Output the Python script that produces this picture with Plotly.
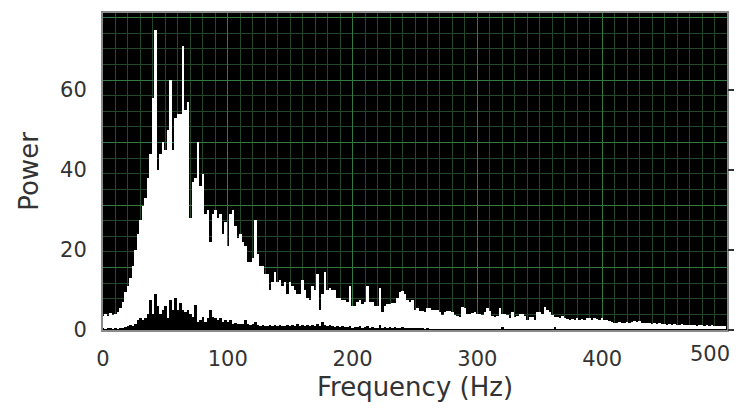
import plotly.graph_objects as go

# frequency bins (Hz), 2 Hz spacing
freq = list(range(0, 500, 2))

# white spectrum (power)
power_a = [
    3.5, 4, 3.5, 4.2, 3.8, 4, 4.5, 5.5, 7, 9.5,
    11, 13, 16, 20, 24, 27.5, 31, 33, 38, 44,
    58, 75, 40, 44, 47, 45, 50, 62.5, 45, 53,
    54, 54, 71, 55, 57, 28, 37, 38, 47, 36,
    39, 29, 30, 22, 29, 30, 28, 29, 24, 27,
    21, 29, 30, 26, 23, 24, 22, 21, 17, 17,
    18, 27.5, 19, 16, 16, 14, 14, 10, 12, 14.5,
    12, 12.5, 11, 12, 9, 12, 11, 10, 9, 9,
    12.5, 10, 8, 7.5, 11, 10, 14, 5, 9, 14.5,
    10, 10.5, 10, 10, 8, 8, 7.5, 7.5, 7, 11,
    6, 6, 7, 7.5, 6.5, 7, 11, 7, 7, 6,
    6, 10.5, 4.5, 6, 6.5, 6.5, 6.8, 6.8, 8, 9.5,
    9.7, 9, 7.5, 7, 7.5, 5, 5.5, 4.7, 4.7, 4.5,
    5.5, 5.5, 5, 5, 5, 4.5, 3.7, 4.5, 4.7, 4.7,
    4.5, 3.7, 3.5, 3.3, 5.7, 5.5, 4, 4, 4.2, 4.5,
    4, 4, 3.8, 4.5, 5.4, 4.8, 3.5, 3.3, 3.5, 5.4,
    4, 4, 3.8, 3, 4.5, 3.3, 3.5, 4, 4, 3.5,
    2.5, 3.3, 3.3, 2.5, 4.5, 4.5, 4, 5.8, 5, 4.5,
    3.8, 3.3, 3.2, 3, 3.5, 3, 2.8, 2.5, 2.8, 2.5,
    3, 2.5, 2.8, 2.5, 3, 3, 2.5, 3, 2.8, 2.5,
    3, 2.5, 2.5, 2.2, 2, 1.8, 1.8, 2, 1.7, 1.8,
    2, 1.8, 2, 2.2, 2, 2.2, 1.8, 1.7, 1.8, 1.7,
    1.6, 1.7, 1.5, 1.7, 1.4, 1.5, 1.3, 1.4, 1.3, 1.5,
    1.3, 1.2, 1.4, 1.3, 1.2, 1.3, 1.2, 1.3, 1.1, 1.2,
    1.3, 1.1, 1.2, 1.1, 1.2, 1.0, 1.1, 1.0, 1.1, 1.0,
]

# black spectrum (power)
power_b = [
    0.3, 0.2, 0.4, 0.3, 0.2, 0.3, 0.2, 0.3, 0.5, 0.8,
    1, 1.2, 1, 1.5, 2.5, 3, 2.5, 3, 4, 7.5,
    4, 9, 6, 4, 5, 6, 3, 7.5, 5, 8,
    5, 6.7, 5, 4.5, 5, 4, 3.3, 6.3, 2, 2.5,
    3.3, 2, 3, 5, 3.3, 3, 2.5, 3, 2, 2.5,
    2, 2.5, 1.5, 1.8, 1.5, 1.5, 1.5, 2.5, 1.5, 1.2,
    1.5, 2, 1.2, 1, 1.2, 1, 1, 1.3, 1, 1.2,
    1, 1.2, 1, 1, 1.3, 1, 1.2, 1, 1.5, 1,
    1.2, 1, 1.3, 1, 1.2, 1, 1.5, 1, 2, 1.2,
    1, 1.3, 1, 0.8, 1, 0.8, 1, 0.7, 0.8, 1,
    0.6, 0.8, 0.7, 0.9, 0.6, 0.8, 1, 0.6, 0.7, 0.5,
    0.6, 1.2, 0.5, 0.8, 0.6, 0.7, 0.5, 0.8, 0.6, 0.5,
    0.7, 0.5, 0.4, 0.6, 0.4, 0.3, 0.4, 0.3, 0.4, 0.2,
    0.3, 0.2, 0.1, 0.2, 0.1, 0.2, 0.1, 0.1, 0.2, 0.1,
    0.1, 0.2, 0.1, 0.1, 0.1, 0.2, 0.1, 0.1, 0.1, 0.1,
    0.1, 0.1, 0.1, 0.2, 0.1, 0.1, 0.1, 0.1, 0.1, 0.1,
    0.8, 0.1, 0.1, 0.1, 0.1, 0.1, 0.1, 0.1, 0.1, 0.1,
    0.1, 0.1, 0.1, 0.1, 0.1, 0.1, 0.1, 0.1, 0.1, 0.1,
    0.1, 0.8, 0.1, 0.1, 0.1, 0.1, 0.1, 0.1, 0.1, 0.1,
    0.1, 0.1, 0.1, 0.1, 0.1, 0.1, 0.1, 0.1, 0.1, 0.1,
    0.1, 0.1, 0.1, 0.1, 0.1, 0.1, 0.1, 0.1, 0.1, 0.1,
    0.1, 0.1, 0.1, 0.1, 0.1, 0.1, 0.1, 0.1, 0.1, 0.1,
    0.1, 0.1, 0.1, 0.1, 0.1, 0.1, 0.1, 0.1, 0.1, 0.1,
    0.1, 0.1, 0.1, 0.1, 0.1, 0.1, 0.1, 0.1, 0.1, 0.1,
    0.1, 0.1, 0.1, 0.1, 0.1, 0.1, 0.1, 0.1, 0.1, 0.1,
]

x_ticks = [0, 100, 200, 300, 400, 500]
y_ticks = [0, 20, 40, 60]

Y_MAX = 79.25
FONT = "DejaVu Sans"
TXT = "#333333"
GRID_MAJOR = "#347a40"
GRID_MINOR = "#24462b"
TICK_SIZE = 21

fig = go.Figure()
fig.add_trace(go.Bar(x=freq, y=power_a, width=2, marker=dict(color="white", line=dict(width=0)),
                     showlegend=False, hoverinfo="x+y"))
fig.add_trace(go.Bar(x=freq, y=power_b, width=2, marker=dict(color="black", line=dict(width=0)),
                     showlegend=False, hoverinfo="x+y"))

# the last x tick label sits at the window edge, so it is nudged left like in the reference
inner_ticks = x_ticks[:-1]
last_tick = x_ticks[-1]

fig.update_layout(
    # page body has an 8px default margin; size the figure to fit the window
    width=735, height=400,
    margin=dict(l=95, r=16, t=5, b=78, autoexpand=False),
    paper_bgcolor="white",
    plot_bgcolor="#000000",
    barmode="overlay", bargap=0,
    font=dict(family=FONT, color=TXT),
    xaxis=dict(
        range=[0, 500], tickvals=inner_ticks, ticktext=[str(v) for v in inner_ticks],
        showgrid=True, gridcolor=GRID_MAJOR, gridwidth=1,
        minor=dict(dtick=10, tick0=0, showgrid=True, gridcolor=GRID_MINOR, gridwidth=1),
        zeroline=False, ticks="", ticklabelstandoff=9,
        tickfont=dict(size=TICK_SIZE, family=FONT, color=TXT),
        showline=True, linecolor="#8a8a8a", linewidth=2, mirror=True,
        automargin=False,
        title=dict(text="Frequency (Hz)", font=dict(size=26, family=FONT, color=TXT), standoff=8),
    ),
    yaxis=dict(
        range=[0, Y_MAX], tickvals=y_ticks, ticktext=[str(v) for v in y_ticks],
        showgrid=False, zeroline=False, ticks="", ticklabelstandoff=10,
        tickfont=dict(size=TICK_SIZE, family=FONT, color=TXT),
        showline=True, linecolor="#8a8a8a", linewidth=2, mirror=True,
        automargin=False,
        title=dict(text="Power", font=dict(size=26, family=FONT, color=TXT), standoff=14),
    ),
    yaxis2=dict(
        overlaying="y", range=[0, Y_MAX], tick0=0, dtick=15.625,
        showgrid=True, gridcolor=GRID_MAJOR, gridwidth=1,
        minor=dict(dtick=3.90625, tick0=0, showgrid=True, gridcolor=GRID_MINOR, gridwidth=1),
        showticklabels=False, ticks="", zeroline=False, showline=False, automargin=False,
    ),
    yaxis3=dict(
        overlaying="y", side="right", range=[0, Y_MAX], tickvals=y_ticks,
        showticklabels=False, ticks="outside", ticklen=6, tickwidth=2, tickcolor="#333333",
        showgrid=False, zeroline=False, showline=False, automargin=False,
    ),
    annotations=[dict(
        x=last_tick, xref="x", y=0, yref="paper", text=str(last_tick), showarrow=False,
        xanchor="center", yanchor="top", xshift=-17, yshift=-10,
        font=dict(size=TICK_SIZE, family=FONT, color=TXT),
    )],
)

# invisible helper traces so overlay axes are rendered
fig.add_trace(go.Scatter(x=[None], y=[None], yaxis="y2", showlegend=False, hoverinfo="skip"))
fig.add_trace(go.Scatter(x=[None], y=[None], yaxis="y3", showlegend=False, hoverinfo="skip"))

fig.write_html("out.html")
